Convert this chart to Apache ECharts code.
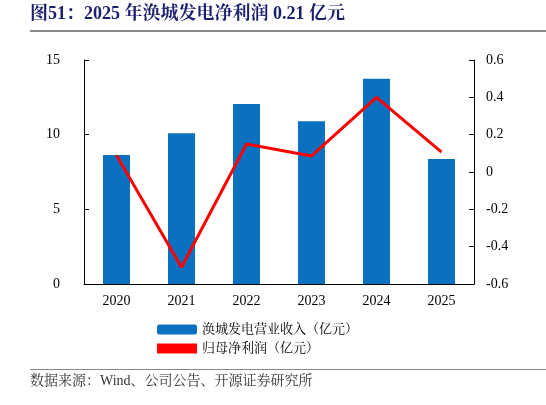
<!DOCTYPE html><html><head><meta charset="utf-8"><script src="https://cdn.jsdelivr.net/npm/echarts@6/dist/echarts.min.js"></script></head><body style="margin:0"><div id="c" style="width:546px;height:405px"></div><script>
const categories=['2020','2021','2022','2023','2024','2025'];
const revenue=[8.64,10.1,12.05,10.9,13.75,8.37];
const profit=[0.09,-0.51,0.15,0.086,0.40,0.107];
const leftTicks=[0,5,10,15];
const ff='"Liberation Serif","Noto Serif CJK SC","Noto Sans CJK SC",serif';
const c=echarts.init(document.getElementById('c'));
c.setOption({animation:false,
graphic:[
{type:'text',left:30,top:5,style:{text:'图51：2025 年涣城发电净利润 0.21 亿元',font:'bold 18px '+ff,fill:'#1a1f6e'}},
{type:'rect',shape:{x:30,y:30,width:516,height:2},style:{fill:'#888'}},
{type:'rect',shape:{x:30,y:369,width:516,height:1},style:{fill:'#888'}},
{type:'text',left:30,top:374,style:{text:'数据来源：Wind、公司公告、开源证券研究所',font:'14px '+ff,fill:'#333'}}],
legend:{orient:'vertical',left:152,top:318,itemGap:6,itemWidth:40,itemHeight:10,textStyle:{fontFamily:ff,fontSize:13,color:'#000'},data:[{name:'涣城发电营业收入（亿元）'},{name:'归母净利润（亿元）',icon:'rect',itemStyle:{color:'#ff0000'}}]},
grid:{left:84,right:72,top:60,bottom:121},
xAxis:{type:'category',data:categories,axisTick:{show:false},axisLine:{lineStyle:{color:'#000'}},axisLabel:{color:'#000',fontFamily:ff,fontSize:14,margin:10}},
yAxis:[{type:'value',min:0,max:15,interval:5,axisLine:{show:true,lineStyle:{color:'#000'}},axisTick:{show:true,inside:true},splitLine:{show:false},axisLabel:{color:'#000',fontFamily:ff,fontSize:14,margin:24}},
{type:'value',min:-0.6,max:0.6,interval:0.2,axisLine:{show:true,lineStyle:{color:'#000'}},axisTick:{show:true,inside:true},splitLine:{show:false},axisLabel:{color:'#000',fontFamily:ff,fontSize:14,margin:12,formatter:v=>{v=Math.round(v*10)/10;return v===0?'0':v.toFixed(1)}}}],
series:[{name:'涣城发电营业收入（亿元）',type:'bar',data:revenue,barWidth:27,itemStyle:{color:'#0a70c0'}},
{name:'归母净利润（亿元）',type:'line',yAxisIndex:1,data:profit,symbol:'none',lineStyle:{color:'#ff0000',width:3},itemStyle:{color:'#ff0000'}}]});
</script></body></html>
